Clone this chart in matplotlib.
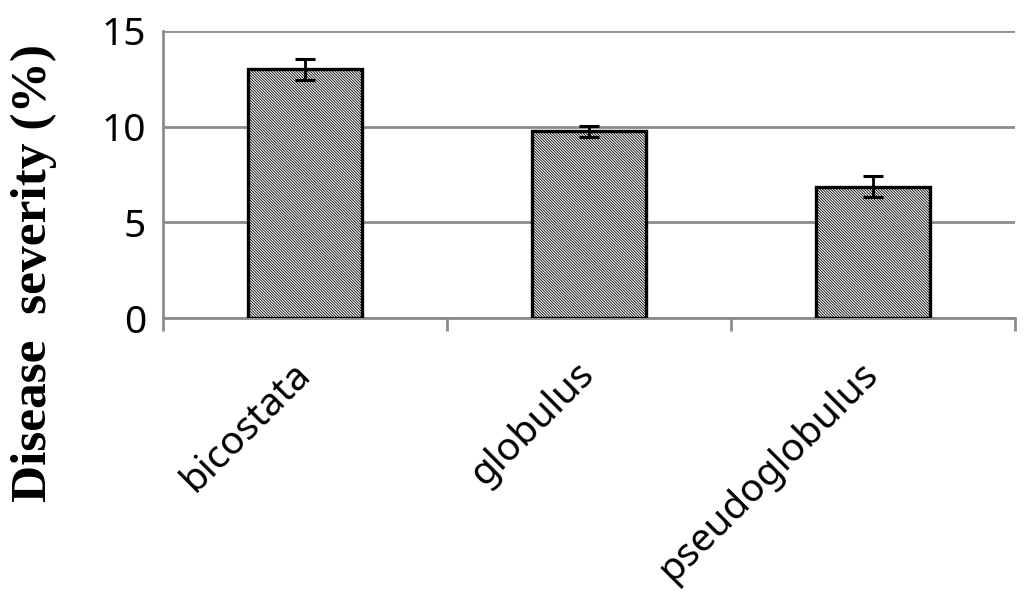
import numpy as np
import matplotlib
matplotlib.use("Agg")
import matplotlib.pyplot as plt

# dane
gatunki = ["bicostata", "globulus", "pseudoglobulus"]
nasilenie = [13.0, 9.75, 6.85]
blad = [0.55, 0.27, 0.55]

SZARY = "#8c8c8c"

plt.rcParams["hatch.linewidth"] = 0.6
plt.rcParams["hatch.color"] = "#4a4a4a"

fig = plt.figure(figsize=(10.24, 6.07), dpi=100)
ax = fig.add_axes([0.159, 0.476, 0.832, 0.473])

x = np.arange(len(gatunki))
ax.bar(x, nasilenie, width=0.40, color="white", edgecolor="black",
       linewidth=2.4, hatch="\\" * 12, zorder=3)
ax.errorbar(x, nasilenie, yerr=blad, fmt="none", ecolor="black",
            elinewidth=2, capsize=7, capthick=2.2, zorder=4)

ax.set_xlim(-0.5, 2.5)
ax.set_ylim(0, 15)
ax.set_yticks([0, 5, 10, 15])
ax.grid(axis="y", color=SZARY, linewidth=2, zorder=0)
ax.set_axisbelow(True)

for s in ["top", "right"]:
    ax.spines[s].set_visible(False)
ax.spines["left"].set_color(SZARY)
ax.spines["left"].set_linewidth(2)
ax.spines["bottom"].set_color(SZARY)
ax.spines["bottom"].set_linewidth(2)

ax.tick_params(axis="y", length=0, pad=12, labelsize=28)
ax.set_xticks(x)
ax.set_xticks([-0.5, 0.5, 1.5, 2.5], minor=True)
ax.tick_params(axis="x", which="major", length=0, pad=36)
ax.tick_params(axis="x", which="minor", length=9, width=2, color=SZARY)
ax.set_xticklabels(gatunki, rotation=45, ha="right", va="center",
                   rotation_mode="anchor", fontsize=28)
for t in ax.get_xticklabels() + ax.get_yticklabels():
    t.set_fontfamily("Noto Sans")

ax.set_ylabel("Disease  severity (%)", fontfamily="Liberation Serif",
              fontweight="bold", fontsize=37)
ax.yaxis.set_label_coords(-0.124, 0.157)

fig.savefig("out.png", dpi=100)
